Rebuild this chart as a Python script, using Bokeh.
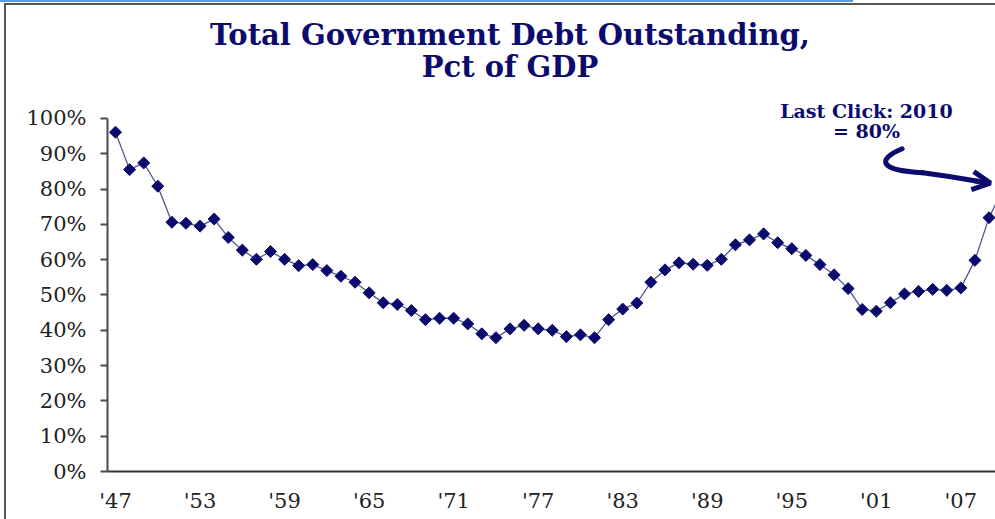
from bokeh.plotting import figure
from bokeh.models import Range1d, FixedTicker, Label, Arrow, OpenHead, InlineStyleSheet
from bokeh.embed import file_html
from bokeh.resources import INLINE

years = list(range(1947, 2011))
debt_pct = [96.1, 85.5, 87.4, 80.8, 70.6, 70.3, 69.5, 71.5, 66.3, 62.7,
            60.1, 62.3, 60.1, 58.3, 58.6, 56.9, 55.3, 53.6, 50.6, 47.8,
            47.3, 45.6, 43.0, 43.4, 43.4, 41.8, 39.0, 37.9, 40.4, 41.4,
            40.4, 40.0, 38.2, 38.7, 37.9, 43.0, 46.0, 47.7, 53.6, 57.1,
            59.1, 58.7, 58.4, 60.1, 64.2, 65.6, 67.3, 64.8, 63.1, 61.2,
            58.6, 55.7, 51.8, 45.9, 45.4, 47.8, 50.3, 51.0, 51.6, 51.3,
            52.0, 59.8, 71.9, 80.0]
x_tick_years = [1947, 1953, 1959, 1965, 1971, 1977, 1983, 1989, 1995, 2001, 2007]
x_tick_labels = ["'47", "'53", "'59", "'65", "'71", "'77", "'83", "'89", "'95", "'01", "'07"]
y_ticks = [0, 10, 20, 30, 40, 50, 60, 70, 80, 90, 100]
y_tick_labels = ["0%", "10%", "20%", "30%", "40%", "50%", "60%", "70%", "80%", "90%", "100%"]

NAVY = "#0b0b6e"
SERIF = "DejaVu Serif"

frame_css = InlineStyleSheet(css="""
:host { position: relative; }
:host::before { content: ''; position: absolute; left: 0; top: 0; width: 853px;
  height: 2px; background: #5b9bd5; z-index: 10; pointer-events: none; }
:host::after { content: ''; position: absolute; left: 4px; top: 3px; right: 0; bottom: 0;
  border-left: 2px solid #555555; border-top: 2px solid #555555; z-index: 10;
  pointer-events: none; }
""")

p = figure(width=995, height=519, output_backend="svg", toolbar_location=None,
           x_range=Range1d(1946.43, 2009.46), y_range=Range1d(0, 133.4),
           min_border_left=107, min_border_right=0, min_border_top=0,
           min_border_bottom=48, stylesheets=[frame_css])
p.outline_line_color = None
p.xgrid.visible = False
p.ygrid.visible = False
p.background_fill_color = "white"
p.border_fill_color = "white"

p.line(years, debt_pct, line_color="#55558f", line_width=1.3)
p.scatter(years, debt_pct, marker="square", angle=0.7854, size=8.5,
          fill_color=NAVY, line_color=NAVY)

# axes
ya = p.yaxis[0]
ya.ticker = FixedTicker(ticks=y_ticks)
ya.major_label_overrides = {t: s for t, s in zip(y_ticks, y_tick_labels)}
ya.bounds = (0, 100)
ya.axis_line_color = "#4a4a4a"
ya.axis_line_width = 2
ya.major_tick_line_color = "#4a4a4a"
ya.major_tick_line_width = 2
ya.major_tick_out = 7
ya.major_tick_in = 0
ya.minor_tick_line_color = None
ya.major_label_standoff = 14
ya.major_label_text_font = SERIF
ya.major_label_text_font_size = "21px"
ya.major_label_text_color = "#222222"

xa = p.xaxis[0]
xa.ticker = FixedTicker(ticks=x_tick_years)
xa.major_label_overrides = {t: s for t, s in zip(x_tick_years, x_tick_labels)}
xa.axis_line_color = "#333333"
xa.axis_line_width = 2
xa.major_tick_line_color = None
xa.minor_tick_line_color = None
xa.major_tick_out = 0
xa.major_tick_in = 0
xa.major_label_standoff = 17
xa.major_label_text_font = SERIF
xa.major_label_text_font_size = "21px"
xa.major_label_text_color = "#222222"

# title as labels
for txt, yy in [("Total Government Debt Outstanding,", 123.5), ("Pct of GDP", 114.6)]:
    p.add_layout(Label(x=1975.0, y=yy, text=txt, text_align="center",
                       text_baseline="middle", text_font=SERIF,
                       text_font_style="bold", text_font_size="29px",
                       text_color=NAVY))

# annotation
for txt, yy in [("Last Click: 2010", 102.2), ("= 80%", 96.3)]:
    p.add_layout(Label(x=2000.3, y=yy, text=txt, text_align="center",
                       text_baseline="middle", text_font=SERIF,
                       text_font_style="bold", text_font_size="19px",
                       text_color=NAVY))

p.bezier(x0=[2002.83], y0=[91.4], x1=[2004.3], y1=[84.6],
         cx0=[2001.0], cy0=[88.3], cx1=[2001.2], cy1=[85.3],
         line_color=NAVY, line_width=5, line_cap="round")
p.quadratic(x0=[2004.3], y0=[84.6], x1=[2008.2], y1=[82.2],
            cx=[2006.2], cy=[83.6], line_color=NAVY, line_width=5, line_cap="round")
p.add_layout(Arrow(x_start=2008.0, y_start=82.3, x_end=2009.1, y_end=81.7,
                   line_color=NAVY, line_width=5,
                   end=OpenHead(size=18, line_color=NAVY, line_width=5)))

open("out.html", "w").write(file_html(p, INLINE))
